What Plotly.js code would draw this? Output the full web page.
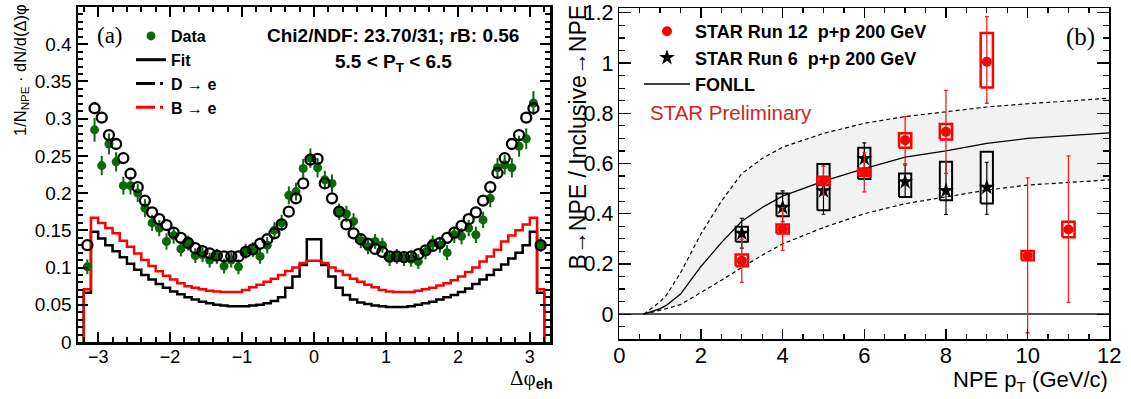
<!DOCTYPE html>
<html><head><meta charset="utf-8">
<script src="https://cdn.plot.ly/plotly-3.0.1.min.js"></script>
<style>html,body{margin:0;padding:0;background:#fff;} #chart{width:1131px;height:399px;}</style>
</head><body><div id="chart"></div>
<script>
// ---------- panel (a): delta-phi distribution ----------
const phiBins = [-3.15,-3.05,-2.95,-2.85,-2.75,-2.65,-2.55,-2.45,-2.35,-2.25,
  -2.15,-2.05,-1.95,-1.85,-1.75,-1.65,-1.55,-1.45,-1.35,-1.25,
  -1.15,-1.05,-0.95,-0.85,-0.75,-0.65,-0.55,-0.45,-0.35,-0.25,
  -0.15,-0.05,0.05,0.15,0.25,0.35,0.45,0.55,0.65,0.75,
  0.85,0.95,1.05,1.15,1.25,1.35,1.45,1.55,1.65,1.75,
  1.85,1.95,2.05,2.15,2.25,2.35,2.45,2.55,2.65,2.75,
  2.85,2.95,3.05,3.15];
const binWidth = 0.1;
const dataVals = [0.101,0.285,0.237,0.266,0.242,0.210,0.210,0.200,0.180,0.160,
  0.153,0.135,0.143,0.125,0.133,0.116,0.117,0.110,0.115,0.102,
  0.110,0.101,0.122,0.124,0.115,0.130,0.150,0.160,0.197,0.202,
  0.233,0.247,0.234,0.218,0.213,0.175,0.172,0.162,0.136,0.128,
  0.135,0.130,0.112,0.115,0.112,0.111,0.108,0.121,0.133,0.130,
  0.120,0.144,0.142,0.153,0.144,0.164,0.193,0.234,0.238,0.234,
  0.263,0.273,0.321,0.131];
const dataErr = [0.010,0.016,0.013,0.014,0.013,0.012,0.012,0.012,0.012,0.011,
  0.011,0.011,0.011,0.010,0.010,0.010,0.010,0.010,0.010,0.010,
  0.010,0.010,0.010,0.010,0.010,0.011,0.011,0.011,0.012,0.012,
  0.013,0.013,0.013,0.012,0.012,0.011,0.011,0.011,0.010,0.010,
  0.010,0.010,0.010,0.010,0.010,0.010,0.010,0.010,0.010,0.010,
  0.010,0.011,0.011,0.011,0.011,0.011,0.012,0.013,0.013,0.013,
  0.014,0.014,0.016,0.010];
const fitVals = [0.130,0.314,0.3015,0.278,0.266,0.247,0.226,0.208,0.190,0.174,
  0.165,0.157,0.147,0.140,0.133,0.126,0.122,0.119,0.116,0.115,
  0.115,0.115,0.121,0.1245,0.132,0.138,0.146,0.158,0.175,0.193,
  0.213,0.245,0.246,0.213,0.193,0.175,0.158,0.146,0.138,0.132,
  0.125,0.121,0.115,0.115,0.114,0.115,0.118,0.123,0.129,0.133,
  0.140,0.147,0.156,0.165,0.174,0.190,0.208,0.227,0.247,0.266,
  0.278,0.3015,0.314,0.130];
const dHist = [0.066,0.148,0.139,0.130,0.122,0.114,0.105,0.097,0.090,0.084,
  0.078,0.073,0.068,0.064,0.060,0.057,0.054,0.052,0.050,0.049,
  0.048,0.048,0.048,0.049,0.050,0.052,0.055,0.060,0.073,0.088,
  0.1035,0.138,0.138,0.1035,0.088,0.073,0.063,0.057,0.053,0.051,
  0.049,0.048,0.047,0.047,0.047,0.048,0.050,0.052,0.054,0.057,
  0.060,0.063,0.067,0.072,0.078,0.084,0.090,0.097,0.104,0.112,
  0.120,0.130,0.148,0.066];
const bHist = [0.071,0.167,0.160,0.153,0.146,0.136,0.128,0.119,0.110,0.102,
  0.095,0.089,0.084,0.079,0.075,0.073,0.071,0.069,0.068,0.067,
  0.067,0.067,0.070,0.0735,0.077,0.081,0.085,0.090,0.0955,0.100,
  0.106,0.109,0.109,0.106,0.100,0.0955,0.090,0.085,0.081,0.077,
  0.0735,0.070,0.068,0.067,0.067,0.067,0.069,0.071,0.073,0.076,
  0.079,0.083,0.088,0.094,0.100,0.108,0.115,0.124,0.135,0.143,
  0.150,0.158,0.167,0.071];

// ---------- panel (b): B->NPE fraction ----------
const ptRun12 = [3,4,5,6,7,8,9,10,11];
const run12 = [0.213,0.339,0.531,0.565,0.693,0.726,1.005,0.233,0.337];
const run12StatUp = [0.086,0.085,0.058,0.078,0.094,0.165,0.180,0.310,0.293];
const run12StatDn = [0.086,0.085,0.058,0.078,0.094,0.165,0.165,0.307,0.290];
const run12SysLo = [0.191,0.321,0.514,0.550,0.663,0.696,0.903,0.215,0.306];
const run12SysHi = [0.238,0.357,0.547,0.580,0.720,0.757,1.120,0.252,0.368];

const ptRun6 = [3,4,5,6,7,8,9];
const run6 = [0.322,0.425,0.491,0.620,0.527,0.492,0.505];
const run6StatUp = [0.060,0.066,0.105,0.062,0.067,0.115,0.100];
const run6StatDn = [0.059,0.057,0.093,0.080,0.060,0.095,0.107];
const run6SysLo = [0.288,0.390,0.414,0.538,0.467,0.454,0.441];
const run6SysHi = [0.348,0.481,0.598,0.663,0.560,0.607,0.647];

const fonllPt = [0.6,1.0,1.15,1.5,2,2.5,3,3.5,4,5,6,7,8,9,10,11,12];
const fonllCentral = [0,0.022,0.035,0.080,0.190,0.285,0.370,0.425,0.470,0.530,0.580,0.625,0.650,0.680,0.700,0.712,0.722];
const fonllUpper = [0,0.050,0.075,0.165,0.320,0.450,0.560,0.620,0.665,0.720,0.760,0.787,0.806,0.825,0.838,0.850,0.860];
const fonllLower = [0,0.015,0.022,0.038,0.085,0.135,0.186,0.235,0.280,0.345,0.400,0.440,0.467,0.494,0.514,0.525,0.535];

// ---------- helpers ----------
const SANS = 'Liberation Sans, Arial, Helvetica, sans-serif';
const SERIF = 'Liberation Serif, Times New Roman, serif';
const GREEN = '#0a6a0a';

function stepXY(centers, vals, w) {
  const X = [centers[0] - w/2], Y = [0];
  centers.forEach((c, i) => { X.push(c - w/2); Y.push(vals[i]); });
  X.push(centers[centers.length-1] + w/2); Y.push(vals[vals.length-1]);
  X.push(centers[centers.length-1] + w/2); Y.push(0);
  return {X, Y};
}
function boxXY(xs, lo, hi, hw) {
  const X = [], Y = [];
  xs.forEach((x, i) => {
    X.push(x-hw, x+hw, x+hw, x-hw, x-hw, null);
    Y.push(lo[i], lo[i], hi[i], hi[i], lo[i], null);
  });
  return {X, Y};
}
const dStep = stepXY(phiBins, dHist, binWidth);
const bStep = stepXY(phiBins, bHist, binWidth);
const boxHalf = 0.15;
const box6 = boxXY(ptRun6, run6SysLo, run6SysHi, boxHalf);
const box12 = boxXY(ptRun12, run12SysLo, run12SysHi, boxHalf);

const traces = [
  {x: dStep.X, y: dStep.Y, xaxis:'x', yaxis:'y', mode:'lines', line:{shape:'hv', color:'#000', width:2.5}, showlegend:false, hoverinfo:'skip'},
  {x: bStep.X, y: bStep.Y, xaxis:'x', yaxis:'y', mode:'lines', line:{shape:'hv', color:'#ff0000', width:2.5}, showlegend:false, hoverinfo:'skip'},
  {x: phiBins, y: dataVals, xaxis:'x', yaxis:'y', mode:'markers', name:'<b>Data</b>', legend:'legend',
   marker:{color:GREEN, size:9, symbol:'circle'},
   error_y:{type:'data', array:dataErr, visible:true, color:GREEN, thickness:2, width:0}},
  {x: phiBins, y: fitVals, xaxis:'x', yaxis:'y', mode:'markers', showlegend:false,
   marker:{color:'#000', size:10, symbol:'circle-open', line:{width:2.3, color:'#000'}}},
  {x:[null], y:[null], xaxis:'x', yaxis:'y', mode:'lines', name:'<b>Fit</b>', legend:'legend', line:{color:'#000', width:3}},
  {x:[null], y:[null], xaxis:'x', yaxis:'y', mode:'lines', name:'<b>D</b> → <b>e</b>', legend:'legend', line:{color:'#000', width:3, dash:'19px,5px,3px,6px'}},
  {x:[null], y:[null], xaxis:'x', yaxis:'y', mode:'lines', name:'<b>B</b> → <b>e</b>', legend:'legend', line:{color:'#ff0000', width:3, dash:'19px,5px,3px,6px'}},

  {x: fonllPt, y: fonllLower, xaxis:'x2', yaxis:'y2', mode:'lines', line:{color:'#000', width:1.2, dash:'4px,3px'}, showlegend:false},
  {x: fonllPt, y: fonllUpper, xaxis:'x2', yaxis:'y2', mode:'lines', fill:'tonexty', fillcolor:'#f2f2f2', line:{color:'#000', width:1.2, dash:'4px,3px'}, showlegend:false},
  {x: fonllPt, y: fonllCentral, xaxis:'x2', yaxis:'y2', mode:'lines', name:'<b>FONLL</b>', legend:'legend2', legendrank:3, line:{color:'#000', width:1.3}},
  {x: box6.X, y: box6.Y, xaxis:'x2', yaxis:'y2', mode:'lines', line:{color:'#000', width:2}, showlegend:false, hoverinfo:'skip'},
  {x: ptRun6, y: run6, xaxis:'x2', yaxis:'y2', mode:'markers', name:'<b>STAR Run 6\u00a0\u00a0p+p 200 GeV</b>', legend:'legend2', legendrank:2,
   marker:{color:'#000', size:12, symbol:'star'},
   error_y:{type:'data', symmetric:false, array:run6StatUp, arrayminus:run6StatDn, color:'#000', thickness:1.2, width:2}},
  {x: box12.X, y: box12.Y, xaxis:'x2', yaxis:'y2', mode:'lines', line:{color:'#ff0000', width:2.5}, showlegend:false, hoverinfo:'skip'},
  {x: ptRun12, y: run12, xaxis:'x2', yaxis:'y2', mode:'markers', name:'<b>STAR Run 12\u00a0\u00a0p+p 200 GeV</b>', legend:'legend2', legendrank:1,
   marker:{color:'#ff0000', size:10, symbol:'circle'},
   error_y:{type:'data', symmetric:false, array:run12StatUp, arrayminus:run12StatDn, color:'#f02020', thickness:1.3, width:2}}
];

const W = 1131, H = 399;
const px = v => v / W, py = v => 1 - v / H;

const axCommon = {showgrid:false, zeroline:false, showline:true, linecolor:'#000', mirror:'allticks', ticks:'inside', tickcolor:'#000'};

const layout = {
  width: W, height: H, margin:{l:0, r:0, t:0, b:0},
  paper_bgcolor:'#fff', plot_bgcolor:'#fff', showlegend:true,
  font:{family:SANS, color:'#000'},
  xaxis: Object.assign({}, axCommon, {domain:[px(78), px(550)], range:[-3.28, 3.28], anchor:'y',
    dtick:1, tick0:0, ticklen:10, tickwidth:2, linewidth:2.5, ticklabelstandoff:-3,
    minor:{dtick:0.2, ticklen:5, tickwidth:2, ticks:'inside', tickcolor:'#000'},
    tickfont:{size:18, family:SANS}}),
  yaxis: Object.assign({}, axCommon, {domain:[1-342/H, 1-7/H], range:[0, 0.45], anchor:'x',
    dtick:0.05, tick0:0, ticklen:10, tickwidth:2, linewidth:2.5,
    minor:{dtick:0.01, ticklen:5, tickwidth:2, ticks:'inside', tickcolor:'#000'},
    tickfont:{size:19, family:SANS}}),
  xaxis2: Object.assign({}, axCommon, {domain:[px(619.3), px(1109.3)], range:[0, 12], anchor:'y2',
    dtick:2, tick0:0, ticklen:10, tickwidth:1.3, linewidth:1.5, ticklabelstandoff:-4,
    minor:{dtick:0.5, ticklen:5, tickwidth:1.3, ticks:'inside', tickcolor:'#000'},
    tickfont:{size:22, family:SANS}}),
  yaxis2: Object.assign({}, axCommon, {domain:[1-339.3/H, 1-8.3/H], range:[-0.1, 1.218], anchor:'x2',
    dtick:0.2, tick0:0, ticklen:12, tickwidth:1.3, linewidth:1.5,
    zeroline:true, zerolinecolor:'#555', zerolinewidth:1.5,
    minor:{dtick:0.05, ticklen:6, tickwidth:1.3, ticks:'inside', tickcolor:'#000'},
    tickfont:{size:21.5, family:SANS}}),
  legend:{x:px(131), y:py(19), xanchor:'left', yanchor:'top', bgcolor:'rgba(0,0,0,0)', borderwidth:0,
    font:{size:16, family:SANS, color:'#000'}, itemwidth:30, traceorder:'normal'},
  legend2:{x:px(639), y:py(13), xanchor:'left', yanchor:'top', bgcolor:'rgba(0,0,0,0)', borderwidth:0,
    font:{size:18, family:SANS, color:'#000'}, itemwidth:46, traceorder:'normal'},
  annotations:[
    {xref:'paper', yref:'paper', x:px(110), y:py(35), text:'(a)', showarrow:false, xanchor:'center', yanchor:'middle', font:{family:SERIF, size:23}},
    {xref:'paper', yref:'paper', x:px(393), y:py(35), text:'<b>Chi2/NDF: 23.70/31; rB: 0.56</b>', showarrow:false, xanchor:'center', yanchor:'middle', font:{size:19}},
    {xref:'paper', yref:'paper', x:px(393), y:py(63), text:'<b>5.5 &lt; P<sub>T</sub> &lt; 6.5</b>', showarrow:false, xanchor:'center', yanchor:'middle', font:{size:19}},
    {xref:'paper', yref:'paper', x:px(555), y:py(379), text:'<span style="font-family:Liberation Serif">Δφ</span><sub><b>eh</b></sub>', showarrow:false, xanchor:'right', yanchor:'middle', font:{size:21}},
    {xref:'paper', yref:'paper', x:px(21), y:py(2), text:'1/N<sub>NPE</sub> · dN/d(Δ)φ', showarrow:false, textangle:-90, xanchor:'center', yanchor:'top', font:{size:16.5}},
    {xref:'paper', yref:'paper', x:px(1110), y:py(381), text:'NPE p<sub>T</sub> (GeV/c)', showarrow:false, xanchor:'right', yanchor:'middle', font:{size:22}},
    {xref:'paper', yref:'paper', x:px(577), y:py(3), text:'B→NPE / Inclusive→NPE', showarrow:false, textangle:-90, xanchor:'center', yanchor:'top', font:{size:23}},
    {xref:'paper', yref:'paper', x:px(648), y:py(112), text:'STAR Preliminary', showarrow:false, xanchor:'left', yanchor:'middle', font:{size:20.5, color:'#c8281e'}},
    {xref:'paper', yref:'paper', x:px(1080), y:py(37), text:'(b)', showarrow:false, xanchor:'center', yanchor:'middle', font:{family:SERIF, size:25}}
  ]
};

Plotly.newPlot('chart', traces, layout, {staticPlot:true, displayModeBar:false});
</script>
</body></html>
